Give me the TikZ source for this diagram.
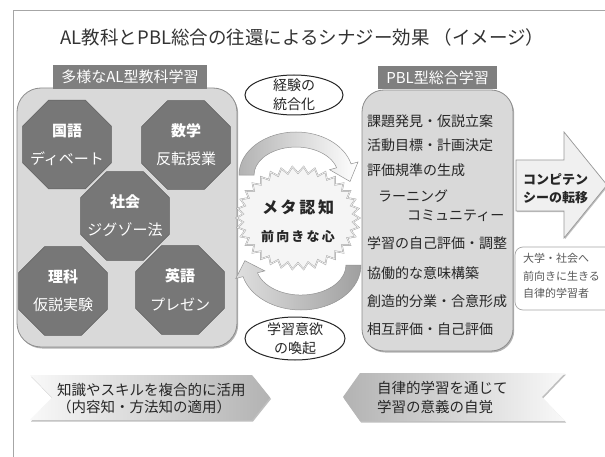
\documentclass[tikz,border=0pt]{standalone}
\usepackage{fontspec}
\setmainfont{Noto Sans CJK JP}
\usetikzlibrary{shapes.geometric,shadows}
\newcommand\myfs[1]{\fontsize{#1}{#1}\selectfont}
\definecolor{octfill}{HTML}{777777}
\definecolor{octline}{HTML}{5E5E5E}
\definecolor{panelfill}{HTML}{D9D9D9}
\definecolor{panelline}{HTML}{8C8C8C}
\definecolor{headfill}{HTML}{7F7F7F}
\definecolor{framec}{HTML}{A6A6A6}
\definecolor{txt}{HTML}{262626}
\definecolor{subtxt}{HTML}{595959}
\begin{document}
\begin{tikzpicture}[x=1pt,y=1pt,
  panel/.style={draw=panelline, fill=panelfill, rounded corners=24pt, line width=0.8pt, inner sep=0,
    drop shadow={shadow xshift=1.2pt, shadow yshift=-1.5pt, opacity=0.3, fill=black}},
  headbox/.style={fill=headfill, text=white, font=\myfs{15}, inner sep=0},
  oct/.style={regular polygon, regular polygon sides=8, minimum size=96pt, inner sep=0, fill=octfill, draw=octline, line width=0.6pt},
  octtitle/.style={text=white, font=\myfs{15}\bfseries, inner sep=0},
  octsub/.style={text=white, font=\myfs{15}, inner sep=0},
  bubble/.style={ellipse, draw=black!85, line width=1pt, fill=white, inner sep=0},
  bubbletext/.style={align=center, font=\fontsize{14}{19}\selectfont, text=txt, inner sep=0},
  item/.style={anchor=west, font=\myfs{14}, text=txt, inner sep=0},
  burstline/.style={fill=gray!8, draw=gray!75, double=gray!12, double distance=0.7pt, line join=miter},
  curvearrow/.style={draw=gray!85, line width=0.5pt},
  chev/.style={draw=none, drop shadow={shadow xshift=1pt, shadow yshift=-1.5pt, opacity=0.25, fill=black}},
]
\useasboundingbox (0,0) rectangle (605,456);
\clip (0,0) rectangle (605,456);
\fill[white] (0,0) rectangle (605,456);

% frame
\coordinate (fbl) at (13,-5);
\coordinate (ftl) at (13,446);
\coordinate (ftr) at (615,446);
\draw[framec, line width=0.8pt] (fbl) -- (ftl) -- (ftr);

% title
\node[font=\myfs{18.5}, text=black!80, inner sep=0] (title) at (302.5,419) {AL教科とPBL総合の往還によるシナジー効果 （イメージ）};

% left panel
\node[panel, minimum width=220pt, minimum height=259pt] (lpanel) at (127,238.5) {};
\node[headbox, minimum width=154pt, minimum height=24pt] (lhead) at (130,379) {多様なAL型教科学習};

\node[oct] (kokugo) at (67,311.5) {};
\node[octtitle] (kokugoT) at ([yshift=14pt]kokugo.center) {国語};
\node[octsub] (kokugoS) at ([yshift=-14pt]kokugo.center) {ディベート};

\node[oct] (sugaku) at (186,311) {};
\node[octtitle] (sugakuT) at ([yshift=14pt]sugaku.center) {数学};
\node[octsub] (sugakuS) at ([yshift=-14pt]sugaku.center) {反転授業};

\node[oct] (shakai) at (125,240) {};
\node[octtitle] (shakaiT) at ([yshift=14pt]shakai.center) {社会};
\node[octsub] (shakaiS) at ([yshift=-14pt]shakai.center) {ジグゾー法};

\node[oct] (rika) at (63,165) {};
\node[octtitle] (rikaT) at ([yshift=14pt]rika.center) {理科};
\node[octsub] (rikaS) at ([yshift=-14pt]rika.center) {仮説実験};

\node[oct] (eigo) at (180,166) {};
\node[octtitle] (eigoT) at ([yshift=14pt]eigo.center) {英語};
\node[octsub] (eigoS) at ([yshift=-14pt]eigo.center) {プレゼン};

% center
\node[bubble, minimum width=98pt, minimum height=40pt] (keiken) at (294,361) {};
\node[bubbletext] (keikenT) at (keiken.center) {経験の\\統合化};

\node[bubble, minimum width=100pt, minimum height=43pt] (iyoku) at (295,117.5) {};
\node[bubbletext] (iyokuT) at (iyoku.center) {学習意欲\\の喚起};

% top curved arrow
\shadedraw[curvearrow, left color=gray!60, right color=white]
  (239,281) arc[start angle=180, end angle=15, x radius=57, y radius=43]
  -- (358,294) -- (350,274.5) -- (329.6,286.3) -- (336.6,288.2)
  arc[start angle=15, end angle=180, x radius=42, y radius=28] -- cycle;

% bottom curved arrow
\shadedraw[curvearrow, left color=gray!25, right color=gray!75]
  (361,191) arc[start angle=0, end angle=-165, x radius=60, y radius=45]
  -- (235.8,177.5) -- (244.9,195.3) -- (264.8,185.1) -- (257.5,183.2)
  arc[start angle=-165, end angle=0, x radius=45, y radius=30] -- cycle;

% starburst
\node[ellipse, minimum width=123pt, minimum height=103pt, inner sep=0] (meta) at (298,238) {};
\draw[burstline] plot[domain=0:67, samples=68]
  ({298+(61.5-6.5*mod(round(\x),2))*cos(\x*5.2941176)}, {238+(51.5-6.5*mod(round(\x),2))*sin(\x*5.2941176)}) -- cycle;
\node[font=\myfs{16}\bfseries, text=txt, inner sep=0] (metaT) at ([yshift=11pt]meta.center) {メ\,タ\,認\,知};
\node[font=\myfs{13}\bfseries, text=txt, inner sep=0] (metaS) at ([yshift=-19pt]meta.center) {前\,向\,き\,な\,心};

% right panel
\node[panel, minimum width=151pt, minimum height=261pt, rounded corners=22pt] (rpanel) at (437.5,235.5) {};
\node[headbox, minimum width=119pt, minimum height=23pt] (rhead) at (437.5,378.5) {PBL型総合学習};

\node[item] (i1) at (367,335) {課題発見・仮説立案};
\node[item] (i2) at (367,311) {活動目標・計画決定};
\node[item] (i3) at (367,286) {評価規準の生成};
\node[item] (i4) at (378,260) {ラーニング};
\node[item] (i5) at (407,240) {コミュニティー};
\node[item] (i6) at (367,213) {学習の自己評価・調整};
\node[item] (i7) at (367,183) {協働的な意味構築};
\node[item] (i8) at (367,155) {創造的分業・合意形成};
\node[item] (i9) at (367,127) {相互評価・自己評価};

% big arrow
\coordinate (a1) at (516,296);
\coordinate (a2) at (564,296);
\coordinate (a3) at (564,324);
\coordinate (a4) at (607,271);
\coordinate (a5) at (564,218);
\coordinate (a6) at (564,245);
\coordinate (a7) at (516,245);
\draw[fill=gray!12, draw=gray!80, line width=0.7pt, drop shadow={shadow xshift=1pt, shadow yshift=-1.2pt, opacity=0.25, fill=black}]
  (a1) -- (a2) -- (a3) -- (a4) -- (a5) -- (a6) -- (a7) -- cycle;
\node[anchor=west, align=left, font=\fontsize{13}{18}\selectfont\bfseries, text=txt, inner sep=0] (comp) at (523,267) {コンピテン\\シーの転移};

% white box
\draw[fill=white, draw=gray!70, line width=0.7pt, rounded corners=8pt] (515,146) rectangle (630,209);
\node[anchor=west, align=left, font=\fontsize{11}{17.5}\selectfont, text=subtxt, inner sep=0] (future) at (523,180) {大学・社会へ\\前向きに生きる\\自律的学習者};

% bottom chevrons
\shade[chev, left color=gray!5, right color=gray!60]
  (30,81) -- (252,81) -- (270,58.5) -- (252,36) -- (30,36) -- (52,58.5) -- cycle;
\node[anchor=west, align=left, font=\fontsize{14.5}{16.5}\selectfont, text=txt, inner sep=0] (chevL) at (57,57.5) {知識やスキルを複合的に活用\\（内容知・方法知の適用）};

\shade[chev, left color=gray!60, right color=gray!5]
  (343,59) -- (360,83) -- (565,83) -- (542,59) -- (565,35) -- (360,35) -- cycle;
\node[anchor=west, align=left, font=\fontsize{14.5}{19}\selectfont, text=txt, inner sep=0] (chevR) at (377,59) {自律的学習を通じて\\学習の意義の自覚};
\end{tikzpicture}
\end{document}
